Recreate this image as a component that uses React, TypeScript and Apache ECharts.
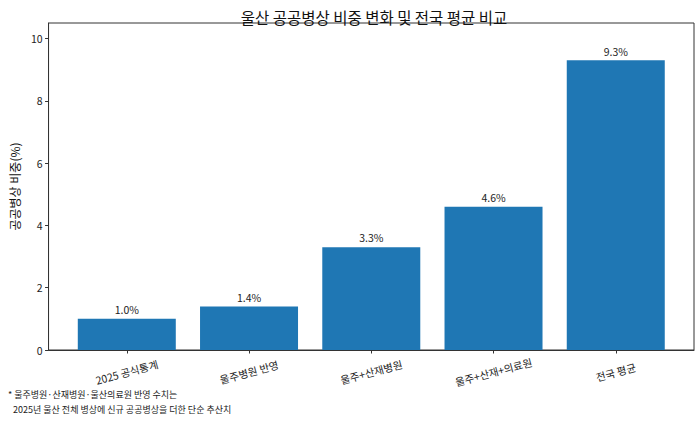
import React, { useEffect, useRef } from "react";
import * as echarts from "echarts";

const categories = ["2025 공식통계", "울주병원 반영", "울주+산재병원", "울주+산재+의료원", "전국 평균"];
const shares = [1.0, 1.4, 3.3, 4.6, 9.3];
const yTicks = [0, 2, 4, 6, 8, 10];
const titleText = "울산 공공병상 비중 변화 및 전국 평균 비교";
const yLabel = "공공병상 비중(%)";
const noteLine1 = "* 울주병원·산재병원·울산의료원 반영 수치는";
const noteLine2 = "2025년 울산 전체 병상에 신규 공공병상을 더한 단순 추산치";

const FONT = "'Noto Sans CJK KR', 'Noto Sans', sans-serif";

export default function App() {
  const ref = useRef<HTMLDivElement>(null);
  useEffect(() => {
    if (!ref.current) return;
    const chart = echarts.init(ref.current, undefined, { renderer: "svg" });
    const idx = categories.map((_, i) => i);
    chart.setOption({
      animation: false,
      backgroundColor: "#ffffff",
      textStyle: { fontFamily: FONT },
      title: {
        text: titleText,
        left: 369,
        textAlign: "center",
        top: 4,
        textStyle: { fontFamily: FONT, fontSize: 15.5, fontWeight: "normal", color: "#111" },
      },
      grid: {
        left: 44,
        right: 6,
        top: 23,
        bottom: 71,
        show: true,
        borderColor: "#333",
        borderWidth: 1,
        backgroundColor: "transparent",
      },
      xAxis: {
        type: "value",
        min: -0.64,
        max: 4.64,
        splitLine: { show: false },
        axisLine: { show: true, onZero: false, lineStyle: { color: "#333", width: 1 } },
        axisTick: {
          show: true,
          customValues: idx,
          length: 3.5,
          lineStyle: { color: "#333" },
        },
        axisLabel: {
          customValues: idx,
          rotate: 15,
          align: "center",
          verticalAlign: "middle",
          margin: 22,
          fontSize: 10.5,
          color: "#222",
          fontFamily: FONT,
          formatter: (v: number) => categories[Math.round(v)] ?? "",
        },
      },
      yAxis: {
        type: "value",
        min: 0,
        max: 10.5,
        splitLine: { show: false },
        axisLine: { show: true, onZero: false, lineStyle: { color: "#333", width: 1 } },
        axisTick: { show: true, customValues: yTicks, length: 3.5, lineStyle: { color: "#333" } },
        axisLabel: {
          customValues: yTicks,
          fontSize: 10.5,
          color: "#222",
          margin: 6,
          fontFamily: FONT,
        },
        name: yLabel,
        nameLocation: "middle",
        nameGap: 23,
        nameTextStyle: { fontSize: 12, color: "#111", fontFamily: FONT },
      },
      series: [
        {
          type: "bar",
          data: shares.map((v, i) => [i, v]),
          barWidth: 98,
          itemStyle: { color: "#1f77b4" },
          label: {
            show: true,
            position: "top",
            distance: 4,
            fontSize: 10.5,
            color: "#222",
            fontFamily: FONT,
            formatter: (p: any) => `${Number(p.value[1]).toFixed(1)}%`,
          },
        },
      ],
      graphic: [
        {
          type: "text",
          left: 8,
          top: 390,
          style: { text: noteLine1, fontSize: 9, fill: "#222", fontFamily: FONT },
        },
        {
          type: "text",
          left: 13,
          top: 405,
          style: { text: noteLine2, fontSize: 9, fill: "#222", fontFamily: FONT },
        },
      ],
    });
    return () => chart.dispose();
  }, []);
  return <div ref={ref} style={{ width: 700, height: 421, position: "absolute", left: 0, top: 0 }} />;
}
